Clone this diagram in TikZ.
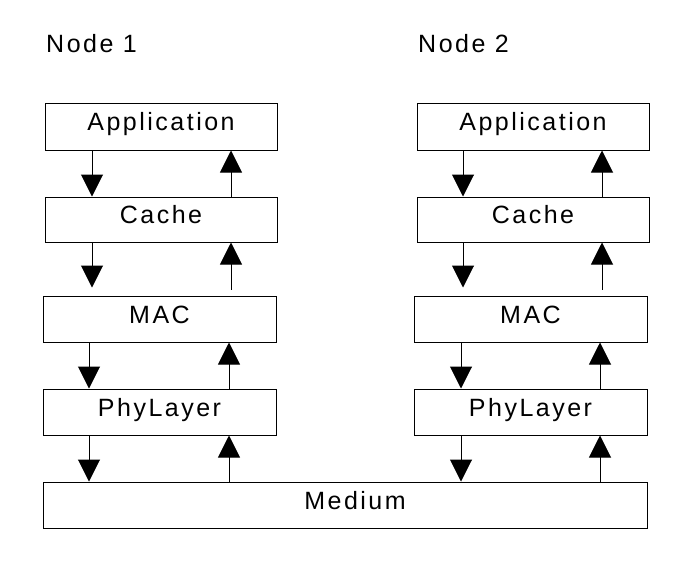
\documentclass[tikz,border=0pt]{standalone}
\usepackage{fontspec}
\setmainfont{Liberation Sans}[LetterSpace=10]
\usetikzlibrary{arrows.meta}
\begin{document}
\begin{tikzpicture}[x=1pt,y=-1pt,
  layerbox/.style={draw=black, line width=1pt, rectangle, inner sep=0pt,
    minimum height=46pt, text height=18pt, text depth=10pt,
    font=\fontsize{25}{30}\selectfont},
  title/.style={anchor=base west, inner sep=0pt, font=\fontsize{25}{30}\selectfont},
  flow/.style={draw=black, line width=1pt, -{Triangle[width=22pt,length=22pt]}}]
\useasboundingbox (0,0) rectangle (688,566);
% titles
\node[title] (t1) at (46,52) {Node 1};
\node[title] (t2) at (418,52) {Node 2};
% node 1 stack
\node[layerbox, minimum width=232pt, minimum height=47pt] (app1) at (161,126.5) {Application};
\node[layerbox, minimum width=232pt, minimum height=45pt] (cache1) at (161,219.5) {Cache};
\node[layerbox, minimum width=233pt] (mac1) at (159.5,319) {MAC};
\node[layerbox, minimum width=233pt] (phy1) at (159.5,412) {PhyLayer};
% node 2 stack
\node[layerbox, minimum width=232pt, minimum height=47pt] (app2) at (533,126.5) {Application};
\node[layerbox, minimum width=232pt, minimum height=45pt] (cache2) at (533,219.5) {Cache};
\node[layerbox, minimum width=233pt] (mac2) at (530.5,319) {MAC};
\node[layerbox, minimum width=233pt] (phy2) at (530.5,412) {PhyLayer};
% medium
\node[layerbox, minimum width=604pt] (medium) at (345,505) {\hspace*{20pt}Medium};
% column positions
\coordinate (da) at (92,0);
\coordinate (db) at (89,0);
\coordinate (ua) at (231,0);
\coordinate (ub) at (229,0);
\coordinate (ea) at (463,0);
\coordinate (eb) at (461,0);
\coordinate (va) at (602,0);
\coordinate (vb) at (600,0);
% node 1 arrows
\draw[flow] (app1.south -| da) -- (cache1.north -| da);
\draw[flow, shorten >=8pt] (cache1.south -| da) -- (mac1.north -| da);
\draw[flow] (mac1.south -| db) -- (phy1.north -| db);
\draw[flow] (phy1.south -| db) -- (medium.north -| db);
\draw[flow] (cache1.north -| ua) -- (app1.south -| ua);
\draw[flow, shorten <=6pt] (mac1.north -| ua) -- (cache1.south -| ua);
\draw[flow] (phy1.north -| ub) -- (mac1.south -| ub);
\draw[flow] (medium.north -| ub) -- (phy1.south -| ub);
% node 2 arrows
\draw[flow] (app2.south -| ea) -- (cache2.north -| ea);
\draw[flow, shorten >=8pt] (cache2.south -| ea) -- (mac2.north -| ea);
\draw[flow] (mac2.south -| eb) -- (phy2.north -| eb);
\draw[flow] (phy2.south -| eb) -- (medium.north -| eb);
\draw[flow] (cache2.north -| va) -- (app2.south -| va);
\draw[flow, shorten <=6pt] (mac2.north -| va) -- (cache2.south -| va);
\draw[flow] (phy2.north -| vb) -- (mac2.south -| vb);
\draw[flow] (medium.north -| vb) -- (phy2.south -| vb);
\end{tikzpicture}
\end{document}
